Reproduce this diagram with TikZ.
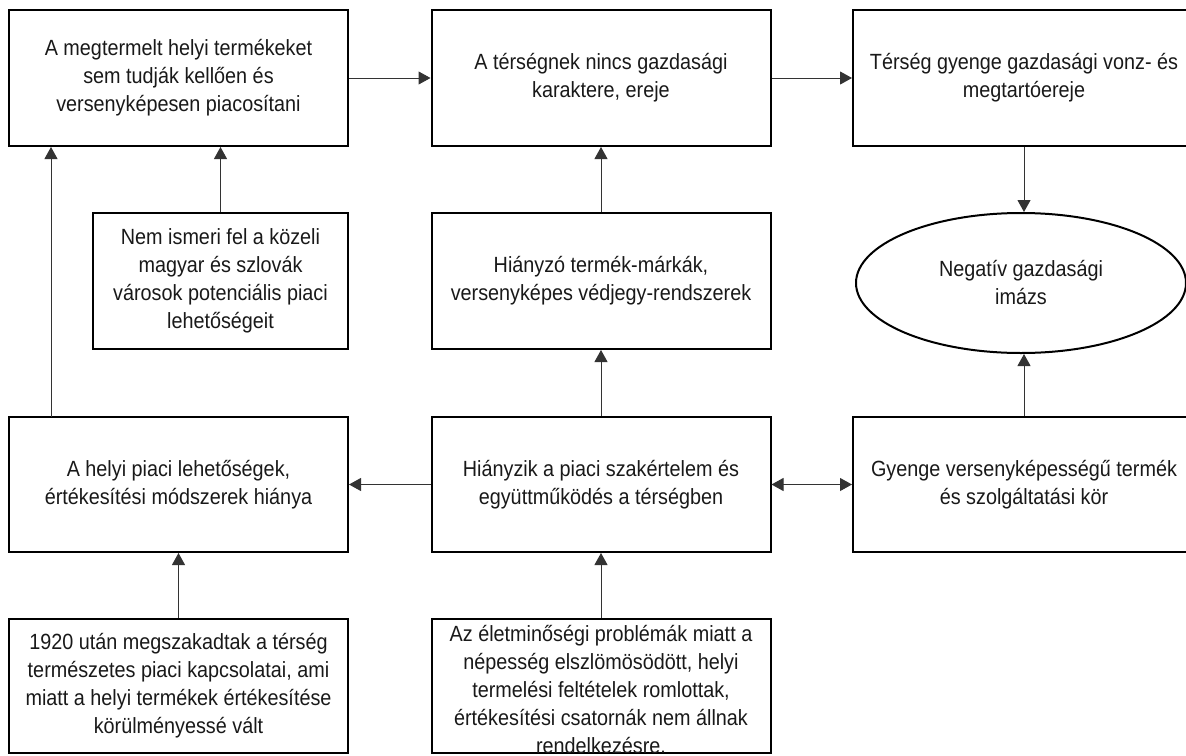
\documentclass[tikz,border=0pt]{standalone}
\usepackage{fontspec}
\setmainfont{Liberation Sans}[FakeStretch=0.9]
\usetikzlibrary{arrows.meta,shapes.geometric}

\begin{document}
\begin{tikzpicture}[x=1pt,y=-1pt,
	doboz/.style={draw,line width=2pt,minimum width=339pt,minimum height=136pt,inner sep=0pt,align=center,text=black!90,font=\fontsize{22}{28}\selectfont},
	szoveg/.style={inner sep=0pt,align=center,text=black!90,font=\fontsize{22}{28}\selectfont},
	nyil/.style={draw=black!80,line width=1pt,-{Triangle[length=12pt,width=13pt]}}]
	
	\useasboundingbox (0,0) rectangle (1186,755);
	
	\node[doboz] (prod) at (178.5,78) {A megtermelt helyi termékeket\\sem tudják kellően és\\versenyképesen piacosítani};
	\node[doboz] (char) at (601,78) {A térségnek nincs gazdasági\\karaktere, ereje};
	\node[doboz,minimum width=342pt] (vonz) at (1024,78) {Térség gyenge gazdasági vonz- és\\megtartóereje};
	
	\node[doboz,minimum width=255pt] (nemism) at (220.5,281) {Nem ismeri fel a közeli\\magyar és szlovák\\városok potenciális piaci\\lehetőségeit};
	\node[doboz] (marka) at (601,281) {Hiányzó termék-márkák,\\versenyképes védjegy-rendszerek};
	\node[draw,ellipse,line width=2pt,minimum width=330pt,minimum height=140pt,szoveg] (imazs) at (1021,283) {Negatív gazdasági\\imázs};
	
	\node[doboz,minimum height=135pt] (piaci) at (178.5,484.5) {A helyi piaci lehetőségek,\\értékesítési módszerek hiánya};
	\node[doboz,minimum height=135pt] (hiany) at (601,484.5) {Hiányzik a piaci szakértelem és\\együttműködés a térségben};
	\node[doboz,minimum width=342pt,minimum height=135pt] (gyenge) at (1024,484.5) {Gyenge versenyképességű termék\\és szolgáltatási kör};
	
	\node[doboz,minimum height=134pt] (ezer) at (178.5,686) {1920 után megszakadtak a térség\\természetes piaci kapcsolatai, ami\\miatt a helyi termékek értékesítése\\körülményessé vált};
	\node[doboz,minimum height=134pt] (elet) at (601,686) {};
	\node[szoveg] (elettxt) at (601,689) {Az életminőségi problémák miatt a\\népesség elszlömösödött, helyi\\termelési feltételek romlottak,\\értékesítési csatornák nem állnak\\rendelkezésre.};
	
	\coordinate (bal) at (51,417);
	
	\draw[nyil] (prod) -- (char);
	\draw[nyil] (char) -- (vonz);
	\draw[nyil] (vonz.south) -- (vonz.south |- imazs.north);
	\draw[nyil] (gyenge.north) -- (gyenge.north |- imazs.south);
	\draw[nyil] (nemism.north) -- (nemism.north |- prod.south);
	\draw[nyil] (bal) -- (bal |- prod.south);
	\draw[nyil] (marka) -- (char);
	\draw[nyil] (hiany) -- (marka);
	\draw[nyil] (hiany) -- (piaci);
	\draw[nyil,{Triangle[length=12pt,width=13pt]}-{Triangle[length=12pt,width=13pt]}] (hiany) -- (gyenge);
	\draw[nyil] (ezer) -- (piaci);
	\draw[nyil] (elet) -- (hiany);
	
\end{tikzpicture}
\end{document}
